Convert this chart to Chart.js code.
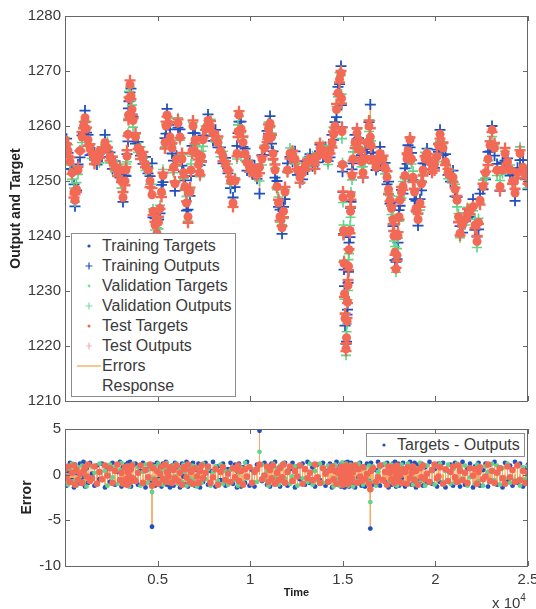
<!DOCTYPE html>
<html>
<head>
<meta charset="utf-8">
<script src="https://cdn.jsdelivr.net/npm/chart.js@4.4.1/dist/chart.umd.min.js"></script>
<style>
body { margin: 0; background: #fff; font-family: "Liberation Sans", Arial, sans-serif; }
#wrap { position: relative; width: 536px; height: 609px; overflow: hidden; background: #fff; }
.pane { position: absolute; left: 0; }
.legend { position: absolute; background: #fff; border: 1px solid #8c8c8c; color: #3a3a3a; font-size: 16px; box-sizing: border-box; }
.row { position: absolute; left: 0; height: 20px; line-height: 20px; white-space: nowrap; }
.row svg { position: absolute; left: 0; top: 0; }
.row span { position: absolute; left: 30px; top: 0; }
#exp { position: absolute; left: 492px; top: 594px; font-size: 15px; line-height: 17px; color: #3a3a3a; }
#exp sup { font-size: 10px; vertical-align: 7px; line-height: 0; }
</style>
</head>
<body>
<div id="wrap">
  <div class="pane" style="top:0"><canvas id="respChart" width="536" height="410"></canvas></div>
  <div class="pane" style="top:410px"><canvas id="errChart" width="536" height="199"></canvas></div>

  <div class="legend" style="left:71px;top:233px;width:165px;height:164px">
    <div class="row" style="top:2px"><svg width="30" height="20"><circle cx="17" cy="10" r="1.6" fill="#2050c0"/></svg><span>Training Targets</span></div>
    <div class="row" style="top:22px"><svg width="30" height="20"><path d="M13.5 10H20.5M17 6.5V13.5" stroke="#2050c0" stroke-width="1.2"/></svg><span>Training Outputs</span></div>
    <div class="row" style="top:42px"><svg width="30" height="20"><circle cx="17" cy="10" r="1.4" fill="#7fdca0"/></svg><span>Validation Targets</span></div>
    <div class="row" style="top:62px"><svg width="30" height="20"><path d="M13.5 10H20.5M17 6.5V13.5" stroke="#7fdca0" stroke-width="1.2"/></svg><span>Validation Outputs</span></div>
    <div class="row" style="top:82px"><svg width="30" height="20"><circle cx="17" cy="10" r="1.5" fill="#f26650"/></svg><span>Test Targets</span></div>
    <div class="row" style="top:102px"><svg width="30" height="20"><path d="M14.5 10H19.5M17 6.5V13.5" stroke="#f7b0b0" stroke-width="1.2"/></svg><span>Test Outputs</span></div>
    <div class="row" style="top:122px"><svg width="30" height="20"><line x1="5" y1="10" x2="29" y2="10" stroke="#f8c98e" stroke-width="2"/></svg><span>Errors</span></div>
    <div class="row" style="top:142px"><span>Response</span></div>
  </div>

  <div class="legend" style="left:366px;top:433px;width:159px;height:24px">
    <div class="row" style="top:1px"><svg width="30" height="20"><circle cx="17" cy="10" r="1.6" fill="#2050c0"/></svg><span>Targets - Outputs</span></div>
  </div>

  <div id="exp">x 10<sup>4</sup></div>
</div>

<script>
Chart.defaults.font.family = "'Liberation Sans', Arial, sans-serif";

// sample index (time) and target values
let time = [
  0, 81, 162, 270, 378, 486, 540, 621, 702, 810,
  918, 999, 1080, 1161, 1242, 1350, 1458, 1593, 1728, 1863,
  1998, 2160, 2295, 2430, 2565, 2700, 2835, 2970, 3051, 3132,
  3240, 3294, 3348, 3402, 3429, 3456, 3510, 3564, 3618, 3672,
  3807, 3942, 4077, 4212, 4347, 4482, 4590, 4698, 4752, 4860,
  4968, 5049, 5130, 5211, 5292, 5400, 5454, 5508, 5589, 5670,
  5778, 5859, 5940, 6021, 6102, 6210, 6318, 6399, 6480, 6561,
  6642, 6750, 6804, 6858, 6912, 7020, 7128, 7209, 7290, 7371,
  7452, 7587, 7722, 7857, 7992, 8127, 8262, 8397, 8532, 8667,
  8802, 8937, 9072, 9180, 9288, 9342, 9396, 9504, 9612, 9720,
  9828, 9963, 10098, 10233, 10368, 10503, 10638, 10773, 10908, 10989,
  11070, 11151, 11232, 11340, 11448, 11529, 11610, 11718, 11799, 11880,
  12015, 12150, 12285, 12420, 12555, 12690, 12825, 12960, 13095, 13230,
  13365, 13500, 13635, 13770, 13932, 14067, 14202, 14310, 14418, 14499,
  14580, 14661, 14742, 14823, 14904, 14931, 14958, 14985, 15012, 15039,
  15066, 15093, 15120, 15174, 15201, 15228, 15255, 15282, 15309, 15336,
  15390, 15417, 15444, 15498, 15552, 15660, 15768, 15849, 15930, 16011,
  16092, 16200, 16308, 16416, 16486, 16524, 16632, 16794, 16902, 17010,
  17172, 17280, 17388, 17469, 17550, 17631, 17712, 17766, 17820, 17874,
  17928, 17982, 18036, 18090, 18171, 18252, 18360, 18468, 18522, 18630,
  18711, 18792, 18873, 18954, 19062, 19170, 19251, 19332, 19440, 19548,
  19683, 19818, 19953, 20088, 20169, 20250, 20412, 20547, 20682, 20817,
  20952, 21060, 21168, 21249, 21330, 21465, 21600, 21735, 21870, 22032,
  22140, 22248, 22329, 22410, 22572, 22707, 22842, 22950, 23058, 23193,
  23328, 23490, 23625, 23760, 23895, 24030, 24165, 24300, 24435, 24570,
  24732, 24867, 25000
];

let target = [
  1257.5, 1256.5, 1255.5, 1253.5, 1251.5, 1248, 1246.5, 1248.5, 1252, 1255.5,
  1258, 1260, 1261.5, 1259.5, 1257.5, 1256, 1255, 1254, 1254, 1254.5,
  1255.6, 1257, 1256, 1254.4, 1253.5, 1252.5, 1252, 1252, 1250, 1247,
  1250, 1252, 1254.5, 1258.5, 1262, 1265, 1267.5, 1265.5, 1263, 1261,
  1258, 1256, 1255, 1254.4, 1253, 1252, 1250, 1247.5, 1244.5, 1242,
  1240.5, 1242.5, 1245, 1248, 1251, 1257, 1260, 1262, 1260.5, 1258,
  1256, 1252.5, 1249.5, 1254, 1260.5, 1258, 1254, 1251.5, 1249, 1246,
  1243.5, 1248, 1252, 1255.5, 1260, 1257.5, 1255, 1253, 1251.5, 1254.5,
  1257.5, 1259.5, 1261, 1260, 1258.7, 1258, 1257, 1255.5, 1254.4, 1253,
  1252, 1250, 1246, 1250, 1255, 1259, 1262, 1259.5, 1257, 1255,
  1253.3, 1252.5, 1252, 1251.5, 1251.5, 1252.5, 1254, 1256, 1258, 1259.5,
  1260.5, 1258, 1255, 1252, 1249, 1246, 1243.5, 1241.5, 1244.5, 1248,
  1252, 1255, 1254.8, 1254, 1252, 1250.7, 1251.5, 1252.5, 1253.5, 1254,
  1253.5, 1253.3, 1254.5, 1256, 1255.6, 1255, 1254, 1255.5, 1257, 1258.5,
  1260, 1263, 1266, 1268.5, 1269.6, 1265, 1259, 1253, 1247, 1241,
  1235, 1229.5, 1225, 1219.5, 1221.5, 1224.5, 1228, 1231, 1234.5, 1237.5,
  1241, 1244.5, 1247.5, 1251, 1254, 1257, 1258.7, 1257.5, 1255.6, 1253.5,
  1251.5, 1254, 1257, 1260, 1258, 1256.5, 1254, 1252.5, 1254, 1255,
  1254, 1252.5, 1250.7, 1248.5, 1246.5, 1245, 1243, 1240, 1237, 1234,
  1236.5, 1240, 1243.5, 1246.5, 1248, 1249, 1251, 1254, 1255.5, 1257.5,
  1254, 1250.7, 1248, 1245, 1243, 1246, 1249.5, 1252, 1254, 1255,
  1253.5, 1252, 1253, 1254.4, 1256.5, 1258.5, 1256, 1253.5, 1251.5, 1251,
  1250.7, 1248.5, 1246.5, 1243.5, 1240.5, 1242, 1243, 1244, 1244.7, 1245.3,
  1242, 1239, 1242.5, 1246.5, 1249, 1251.5, 1254, 1256.5, 1259.3, 1256,
  1252, 1249, 1252, 1255, 1253.5, 1252, 1250, 1247.8, 1251.5, 1255,
  1252.5, 1251, 1249.6
];

// errors (target - output)
let trainErr = [
  0.9, -1.2, 0.4, 1.3, -0.6, -1.4, 1.1, 0.2, -1.0, 1.2,
  -0.3, 1.4, -1.3, 0.7, -0.9, 1.3, 0.1, -1.2, 1.0, -0.5,
  1.2, -1.4, 0.6, -0.8, 1.3, -1.1, 0.3, 1.4, -1.3, 0.8,
  -1.0, 1.1, -0.4, 1.3, -1.2, 0.5, 1.4, -1.3, 0.9, -0.7,
  1.2, -1.1, 0.4, 1.3, -1.4, 0.6, -0.9, -5.7, 1.1, -1.2,
  1.3, -0.5, 0.9, -1.3, 1.2, -0.8, 1.4, -1.1, 0.3, -1.4,
  1.0, -1.2, 1.3, -0.6, 0.8, -1.4, 1.2, -0.2, -1.1, 1.4,
  -1.3, 0.7, 1.1, -0.9, 1.3, -1.2, 0.5, 1.2, -1.4, 0.9,
  -0.8, 1.3, -1.1, 0.4, 1.4, -1.3, 0.9, -0.6, 1.2, -1.2,
  0.6, 1.3, -1.0, 1.1, -1.4, 0.3, 1.2, -1.3, 0.8, -0.9,
  1.4, -1.2, 0.5, -1.3, 1.1, 4.8, -0.7, 1.3, -1.1, 0.9,
  -1.3, 1.2, -0.4, 1.4, -1.0, 0.7, -1.3, 1.1, -0.8, 1.3,
  -1.2, 0.6, 1.3, -1.4, 0.9, -0.5, 1.2, -1.1, 1.4, -0.9,
  0.8, -1.3, 1.1, -0.6, 1.3, -1.2, 0.4, 1.2, -1.4, 1.0,
  -0.7, 1.4, -1.1, 0.9, -1.3, 1.2, -0.8, 1.3, -1.0, 0.6,
  1.1, -1.4, 1.3, -0.9, 0.7, -1.2, 1.4, -0.5, 1.0, -1.3,
  1.2, -0.6, 1.3, -1.1, 0.8, -1.4, 1.1, -0.3, 1.3, -1.2,
  0.9, -1.3, 1.2, -0.7, -5.9, 1.3, -1.1, 0.5, 1.4, -1.2,
  1.1, -0.8, 1.3, -1.4, 0.6, -1.1, 1.2, -0.9, 1.4, -1.3,
  0.7, 1.2, -1.2, 1.0, -0.4, 1.3, -1.3, 0.9, -1.0, 1.4,
  -1.1, 0.5, 1.3, -1.4, 1.1, -0.7, 1.2, -1.2, 0.8, -0.9,
  1.4, -1.0, 0.6, -1.3, 1.2, -0.8, 1.3, -1.4, 0.4, 1.1,
  -1.2, 1.3, -0.6, 0.9, -1.3, 1.4, -1.1, 0.7, 1.2, -1.4,
  0.9, -0.9, 1.3, -1.2, 0.5, 1.2, -1.3, 1.1, -0.7, 1.4,
  -1.1, 0.8, -1.4, 1.3, -0.6, 1.0, -1.2, 1.4, -0.9, 1.2,
  -1.3, 0.7, 1.1
];

let valErr = [
  -0.4, 0.9, -1.1, 0.6, 1.2, -0.7, 0.3, -1.2, 0.8, -0.2,
  1.0, -0.8, 0.5, -1.3, 1.1, -0.4, 0.9, 0.2, -1.0, 1.2,
  -0.6, 0.4, -1.2, 1.1, -0.3, 0.8, -1.0, 0.5, 1.3, -0.9,
  0.7, -1.1, 1.0, -0.2, 0.6, -1.3, 0.4, 0.9, -0.8, 1.2,
  -0.5, 0.8, -1.2, 0.3, 1.1, -0.9, 0.6, -1.9, -0.4, 0.9,
  -1.0, 1.2, -0.6, 0.4, -1.1, 0.8, -0.3, 1.3, -0.9, 0.5,
  -0.7, 1.0, -0.2, 1.2, -1.0, 0.6, -0.8, 1.1, 0.3, -1.2,
  0.8, -0.4, -1.1, 1.0, -0.6, 0.9, -1.3, 0.2, 0.7, -0.9,
  1.2, -0.5, 0.6, -1.2, 0.3, 0.9, -0.7, 1.1, -1.0, 0.4,
  -1.1, 0.5, 0.8, -0.6, 1.0, -1.2, 0.2, 0.7, -0.9, 1.3,
  -0.4, 0.9, -1.0, 0.6, -0.8, 2.5, 1.1, -0.5, 0.4, -1.2,
  0.8, -0.7, 1.2, -0.3, 0.6, -1.1, 1.0, -0.6, 1.3, -0.4,
  0.5, -1.0, -0.2, 0.9, -1.2, 1.1, -0.4, 0.7, -0.8, 1.2,
  -1.1, 0.4, -0.6, 1.2, -0.9, 0.3, 1.0, -0.7, 0.6, -1.3,
  1.1, -0.5, 0.7, -1.2, 0.4, -0.8, 1.3, -0.3, 0.9, -1.0,
  -0.6, 1.0, -0.8, 1.2, -1.1, 0.5, -0.4, 0.9, -1.2, 0.7,
  -0.9, 1.1, -0.5, 0.8, -1.3, 0.6, -0.7, 1.2, -0.4, 0.9,
  -1.1, 0.7, -0.5, 1.0, -3.0, -0.8, 0.9, -1.2, 0.3, 0.8,
  -0.6, 1.2, -1.0, 0.5, -0.8, 1.1, -0.3, 0.9, -1.1, 0.6,
  -1.2, 0.4, 0.8, -0.7, 1.1, -0.9, 0.6, -1.0, 1.2, -0.5,
  0.9, -1.1, -0.4, 0.7, -0.9, 1.3, -0.6, 0.8, -1.2, 1.0,
  -0.7, 0.6, -1.1, 0.9, -0.5, 1.2, -0.8, 0.4, 1.1, -1.0,
  0.6, -0.9, 1.2, -0.6, 0.8, -0.4, 1.0, -1.2, -0.3, 0.7,
  -1.0, 1.1, -0.7, 0.5, -1.2, 0.9, 0.3, -0.8, 1.2, -0.6,
  1.0, -1.1, 0.7, -0.4, 1.2, -0.9, 0.5, -0.6, 1.1, -1.2,
  0.8, -0.5, 0.9
];

let testErr = [
  0.6, -0.3, 0.9, -0.8, 0.2, 1.0, -1.1, 0.5, -0.6, 0.1,
  -0.9, 0.4, 0.8, -0.2, 1.1, -0.7, -0.4, 0.9, -1.0, 0.3,
  -0.5, 1.0, -0.1, 0.7, -0.9, 0.4, 1.1, -0.6, 0.2, -1.0,
  0.8, -0.5, -1.1, 0.3, 0.9, -0.2, -0.8, 0.6, 1.0, -0.4,
  -0.7, 0.2, 1.0, -0.9, 0.5, -0.3, 1.1, -1.2, 0.7, -0.6,
  0.4, -1.0, 0.1, 0.9, -0.5, 1.1, -0.8, 0.3, -0.2, 0.8,
  -0.9, 0.5, -0.4, 1.0, -0.7, 0.2, -1.1, 0.8, 0.6, -0.3,
  1.1, -0.8, 0.3, 0.5, -1.0, 0.7, -0.2, -0.9, 0.4, 1.0,
  -0.4, 0.2, 0.9, -0.9, -0.3, 0.6, -1.1, 0.3, 0.8, -0.6,
  0.1, -0.8, 0.7, -0.3, 0.5, 1.0, -0.7, 0.4, -1.1, 0.6,
  -0.2, 0.8, -0.9, 0.3, 0.6, 1.1, -0.5, -0.1, 0.9, -0.8,
  0.5, -0.4, 1.0, -1.0, 0.2, -0.6, 0.7, -0.3, 1.1, -0.9,
  0.3, 0.9, -0.7, 0.4, -0.2, 1.0, -1.0, 0.6, -0.4, 0.2,
  -0.6, 1.1, -0.3, -0.9, 0.7, 0.1, -0.8, 0.5, 0.9, -0.5,
  0.4, -1.0, 0.2, 0.6, -0.4, 0.9, -0.7, 0.3, -1.1, 0.8,
  -0.3, 0.6, -0.9, 0.4, 1.0, -0.6, 0.2, -1.0, 0.7, -0.1,
  0.5, -0.8, 0.9, -0.4, 0.3, 1.0, -0.9, 0.6, -0.2, -0.7,
  0.8, -0.5, 0.1, -1.0, -1.6, 0.4, 0.7, -0.8, -0.3, 1.0,
  -0.6, 0.3, -1.1, 0.9, 0.2, -0.5, 0.8, -0.9, 0.4, -0.2,
  1.0, -0.7, 0.5, -0.1, -0.9, 0.6, 0.3, -1.0, 0.8, -0.4,
  0.2, 0.9, -0.6, 0.4, -1.1, 0.7, -0.3, 1.0, -0.5, 0.1,
  -0.8, 0.5, 1.1, -0.4, -0.2, 0.8, -1.0, 0.6, -0.7, 0.3,
  0.9, -0.3, -0.8, 1.0, 0.4, -0.6, 0.2, -0.9, 0.7, -0.1,
  0.6, -1.0, 0.3, 0.8, -0.5, -0.2, 1.1, -0.7, 0.4, -0.9,
  0.2, 0.7, -0.4, -1.0, 0.9, -0.3, 0.5, -0.8, 1.0, -0.6,
  0.4, -0.9, 0.1
];

let respTicks = [1210, 1220, 1230, 1240, 1250, 1260, 1270, 1280];
let errTicks = [-10, -5, 0, 5];

let blue = '#2050c0';
let green = '#5fd48a';
let red = '#f26a56';
let orange = '#f6a860';

function pts(ys) {
  return time.map(function (t, i) { return { x: t, y: ys[i] }; });
}

function outputs(err) {
  return target.map(function (v, i) { return v - err[i]; });
}

// vertical segments from a to b at every time
function stems(a, b, list) {
  time.forEach(function (t, i) {
    list.push({ x: t, y: a[i] }, { x: t, y: b[i] }, { x: t, y: null });
  });
  return list;
}

let trainOut = outputs(trainErr);
let valOut = outputs(valErr);
let testOut = outputs(testErr);

let respErrLines = [];
stems(target, trainOut, respErrLines);
stems(target, valOut, respErrLines);
stems(target, testOut, respErrLines);

let zeros = time.map(function () { return 0; });
let errStems = [];
stems(zeros, trainErr, errStems);
stems(zeros, valErr, errStems);
stems(zeros, testErr, errStems);

// box around the axes with inward tick marks, like the original figure
let boxTicks = {
  id: 'boxTicks',
  afterDraw: function (chart) {
    let a = chart.chartArea, c = chart.ctx;
    let xs = chart.scales.x, ys = chart.scales.y;
    c.save();
    c.strokeStyle = '#666';
    c.lineWidth = 1;
    c.beginPath();
    xs.ticks.forEach(function (t) {
      let px = Math.round(xs.getPixelForValue(t.value)) + 0.5;
      c.moveTo(px, a.bottom); c.lineTo(px, a.bottom - 5);
      c.moveTo(px, a.top); c.lineTo(px, a.top + 5);
    });
    ys.ticks.forEach(function (t) {
      let py = Math.round(ys.getPixelForValue(t.value)) + 0.5;
      c.moveTo(a.left, py); c.lineTo(a.left + 5, py);
      c.moveTo(a.right, py); c.lineTo(a.right - 5, py);
    });
    c.stroke();
    c.strokeRect(a.left + 0.5, a.top + 0.5, a.right - a.left - 1, a.bottom - a.top);
    c.restore();
  }
};

function fixY(scale) { scale.width = 65; scale.paddingTop = 0; scale.paddingBottom = 0; }
function plain(v) { return String(v); }

let tickFont = { size: 15 };
let tickColor = '#3a3a3a';

let respChart = new Chart(document.getElementById('respChart').getContext('2d'), {
  type: 'scatter',
  data: {
    datasets: [
      { label: 'Errors', data: respErrLines, showLine: true, pointRadius: 0, borderColor: orange, borderWidth: 1.5, order: 7 },
      { label: 'Training Targets', data: pts(target), pointStyle: 'circle', pointRadius: 2, backgroundColor: blue, borderColor: blue, borderWidth: 0, order: 6 },
      { label: 'Training Outputs', data: pts(trainOut), pointStyle: 'cross', pointRadius: 5.5, borderColor: blue, borderWidth: 1.8, order: 5 },
      { label: 'Validation Targets', data: pts(target), pointStyle: 'circle', pointRadius: 2, backgroundColor: green, borderColor: green, borderWidth: 0, order: 4 },
      { label: 'Validation Outputs', data: pts(valOut), pointStyle: 'cross', pointRadius: 5, borderColor: green, borderWidth: 1.6, order: 3 },
      { label: 'Test Targets', data: pts(target), pointStyle: 'circle', pointRadius: 4.5, backgroundColor: red, borderColor: red, borderWidth: 0, order: 2 },
      { label: 'Test Outputs', data: pts(testOut), pointStyle: 'cross', pointRadius: 5.5, borderColor: red, borderWidth: 2.4, order: 1 }
    ]
  },
  options: {
    responsive: false,
    animation: false,
    events: [],
    layout: { padding: { top: 16, right: 8, bottom: 9, left: 0 } },
    plugins: { legend: { display: false }, tooltip: { enabled: false } },
    scales: {
      x: {
        type: 'linear', min: 0, max: 25000,
        ticks: { display: false, stepSize: 5000 },
        grid: { display: false, drawTicks: false },
        border: { display: false },
        afterFit: function (s) { s.height = 0; s.paddingLeft = 0; s.paddingRight = 0; }
      },
      y: {
        min: 1210, max: 1280,
        afterBuildTicks: function (s) { s.ticks = respTicks.map(function (v) { return { value: v }; }); },
        ticks: { font: tickFont, color: tickColor, padding: 4, callback: plain },
        grid: { display: false, drawTicks: false },
        border: { display: false },
        title: { display: true, text: 'Output and Target', font: { size: 14, weight: 'bold' }, color: '#222', padding: { top: 8, bottom: 0 } },
        afterFit: fixY
      }
    }
  },
  plugins: [boxTicks]
});

let errChart = new Chart(document.getElementById('errChart').getContext('2d'), {
  type: 'scatter',
  data: {
    datasets: [
      { label: 'Errors', data: errStems, showLine: true, pointRadius: 0, borderColor: orange, borderWidth: 1, order: 4 },
      { label: 'Training', data: pts(trainErr), pointStyle: 'circle', pointRadius: 2.4, backgroundColor: blue, borderWidth: 0, order: 3 },
      { label: 'Validation', data: pts(valErr), pointStyle: 'circle', pointRadius: 2.4, backgroundColor: green, borderWidth: 0, order: 2 },
      { label: 'Test', data: pts(testErr), pointStyle: 'circle', pointRadius: 3.3, backgroundColor: red, borderWidth: 0, order: 1 }
    ]
  },
  options: {
    responsive: false,
    animation: false,
    events: [],
    layout: { padding: { top: 19, right: 8, bottom: 0, left: 0 } },
    plugins: { legend: { display: false }, tooltip: { enabled: false } },
    scales: {
      x: {
        type: 'linear', min: 0, max: 25000,
        ticks: {
          stepSize: 5000, font: tickFont, color: tickColor, padding: 5, maxRotation: 0,
          callback: function (v) { return v === 0 ? '' : String(v / 10000); }
        },
        grid: { display: false, drawTicks: false },
        border: { display: false },
        title: { display: true, text: 'Time', font: { size: 11, weight: 'bold' }, color: '#222', padding: { top: 0, bottom: 9 } },
        afterFit: function (s) { s.height = 43; s.paddingLeft = 0; s.paddingRight = 0; }
      },
      y: {
        min: -10, max: 5,
        afterBuildTicks: function (s) { s.ticks = errTicks.map(function (v) { return { value: v }; }); },
        ticks: { font: tickFont, color: tickColor, padding: 4, callback: plain },
        grid: { display: false, drawTicks: false },
        border: { display: false },
        title: { display: true, text: 'Error', font: { size: 14, weight: 'bold' }, color: '#222', padding: { top: 19, bottom: 0 } },
        afterFit: fixY
      }
    }
  },
  plugins: [boxTicks]
});
</script>
</body>
</html>
